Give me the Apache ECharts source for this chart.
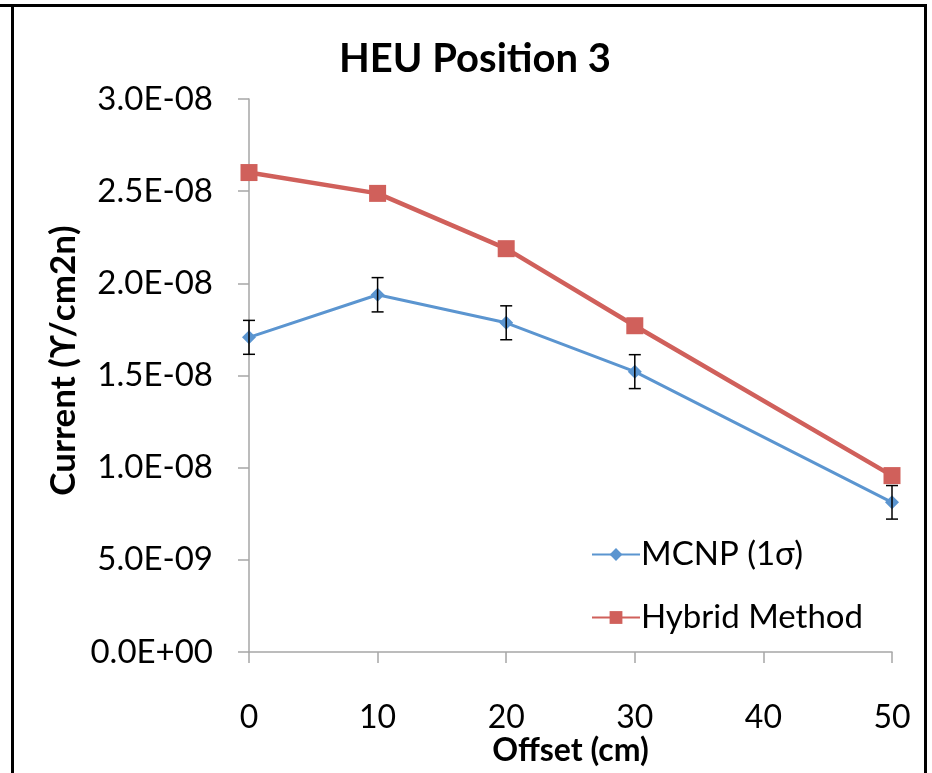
<!DOCTYPE html>
<html>
<head>
<meta charset="utf-8">
<script src="https://cdn.jsdelivr.net/npm/echarts@6/dist/echarts.min.js"></script>
<style>
html,body{margin:0;padding:0;background:#fff;}
#chart{width:932px;height:773px;}
</style>
</head>
<body>
<div id="chart"></div>
<script>
const titleText = 'HEU Position 3';
const xAxisName = 'Offset (cm)';
const yAxisName = 'Current (ϒ/cm2n)';
const offsets = [0, 10, 20, 30, 50];
const mcnp = [1.707e-8, 1.938e-8, 1.786e-8, 1.521e-8, 0.812e-8];
const mcnpErr = [0.92e-9, 0.93e-9, 0.92e-9, 0.92e-9, 0.91e-9];
const hybrid = [2.601e-8, 2.488e-8, 2.188e-8, 1.770e-8, 0.957e-8];
const seriesNames = ['MCNP (1σ)', 'Hybrid Method'];

const FONT = 'Lato';
const blue = '#5B95D0';
const red = '#D0605B';

function fmtY(v) {
  let s = v.toExponential(1).toUpperCase();
  const m = s.match(/^(-?[\d.]+)E([+-])(\d+)$/);
  if (!m) return s;
  let e = m[3].length < 2 ? '0' + m[3] : m[3];
  return m[1] + 'E' + m[2] + e;
}

const chart = echarts.init(document.getElementById('chart'), null, {renderer: 'canvas'});
const errData = offsets.map((x, i) => [x, mcnp[i] - mcnpErr[i], mcnp[i] + mcnpErr[i]]);

chart.setOption({
  animation: false,
  backgroundColor: '#fff',
  title: {
    text: titleText,
    left: 470, top: 34, textAlign: 'center',
    textStyle: {fontFamily: FONT, fontWeight: 'bold', fontSize: 40, color: '#000'}
  },
  grid: {left: 249, right: 40, top: 99, bottom: 121, containLabel: false},
  legend: {
    orient: 'vertical',
    left: 586, top: 533,
    itemWidth: 48, itemHeight: 16, itemGap: 30,
    textStyle: {fontFamily: FONT, fontSize: 33, color: '#000', padding: [0,0,0,-4]},
    data: [
      {name: seriesNames[0]},
      {name: seriesNames[1]}
    ]
  },
  xAxis: {
    type: 'value', min: 0, max: 50, interval: 10,
    name: xAxisName, nameLocation: 'middle', nameGap: 83, nameMoveOverlap: false,
    nameTextStyle: {fontFamily: FONT, fontWeight: 'bold', fontSize: 32, color: '#000'},
    axisLine: {show: true, lineStyle: {color: '#A6A6A6', width: 1.5}},
    axisTick: {show: true, length: 11, lineStyle: {color: '#A6A6A6', width: 1.5}},
    axisLabel: {fontFamily: FONT, fontSize: 32, color: '#000', margin: 50},
    splitLine: {show: false}
  },
  yAxis: {
    type: 'value', min: 0, max: 3e-8, interval: 5e-9,
    name: yAxisName, nameLocation: 'middle', nameGap: 168, nameRotate: 90, nameMoveOverlap: false,
    nameTextStyle: {fontFamily: FONT, fontWeight: 'bold', fontSize: 35, color: '#000', padding: [0,0,0,30]},
    axisLine: {show: true, lineStyle: {color: '#A6A6A6', width: 1.5}},
    axisTick: {show: true, length: 11, lineStyle: {color: '#A6A6A6', width: 1.5}},
    axisLabel: {fontFamily: FONT, fontSize: 33, color: '#000', margin: 36, formatter: fmtY},
    splitLine: {show: false}
  },
  series: [
    {
      name: seriesNames[0], type: 'line',
      data: offsets.map((x, i) => [x, mcnp[i]]),
      symbol: 'diamond', symbolSize: 14,
      lineStyle: {color: blue, width: 3},
      itemStyle: {color: blue},
      z: 3
    },
    {
      name: seriesNames[1], type: 'line',
      data: offsets.map((x, i) => [x, hybrid[i]]),
      symbol: 'rect', symbolSize: 17,
      lineStyle: {color: red, width: 4.5},
      itemStyle: {color: red},
      z: 4
    },
    {
      name: 'err', type: 'custom',
      data: errData,
      z: 5,
      renderItem: function (params, api) {
        const x = api.value(0);
        const lo = api.coord([x, api.value(1)]);
        const hi = api.coord([x, api.value(2)]);
        const hw = 6;
        const st = {stroke: '#000', lineWidth: 1.5};
        return {
          type: 'group',
          children: [
            {type: 'line', shape: {x1: lo[0], y1: lo[1], x2: hi[0], y2: hi[1]}, style: st},
            {type: 'line', shape: {x1: lo[0] - hw, y1: lo[1], x2: lo[0] + hw, y2: lo[1]}, style: st},
            {type: 'line', shape: {x1: hi[0] - hw, y1: hi[1], x2: hi[0] + hw, y2: hi[1]}, style: st}
          ]
        };
      }
    }
  ],
  graphic: [
    {type: 'line', shape: {x1: 0, y1: 5.5, x2: 927, y2: 5.5}, style: {stroke: '#000', lineWidth: 3}, silent: true},
    {type: 'line', shape: {x1: 12.5, y1: 4, x2: 12.5, y2: 773}, style: {stroke: '#000', lineWidth: 3}, silent: true},
    {type: 'line', shape: {x1: 925.5, y1: 4, x2: 925.5, y2: 773}, style: {stroke: '#000', lineWidth: 3}, silent: true}
  ]
});
</script>
</body>
</html>
